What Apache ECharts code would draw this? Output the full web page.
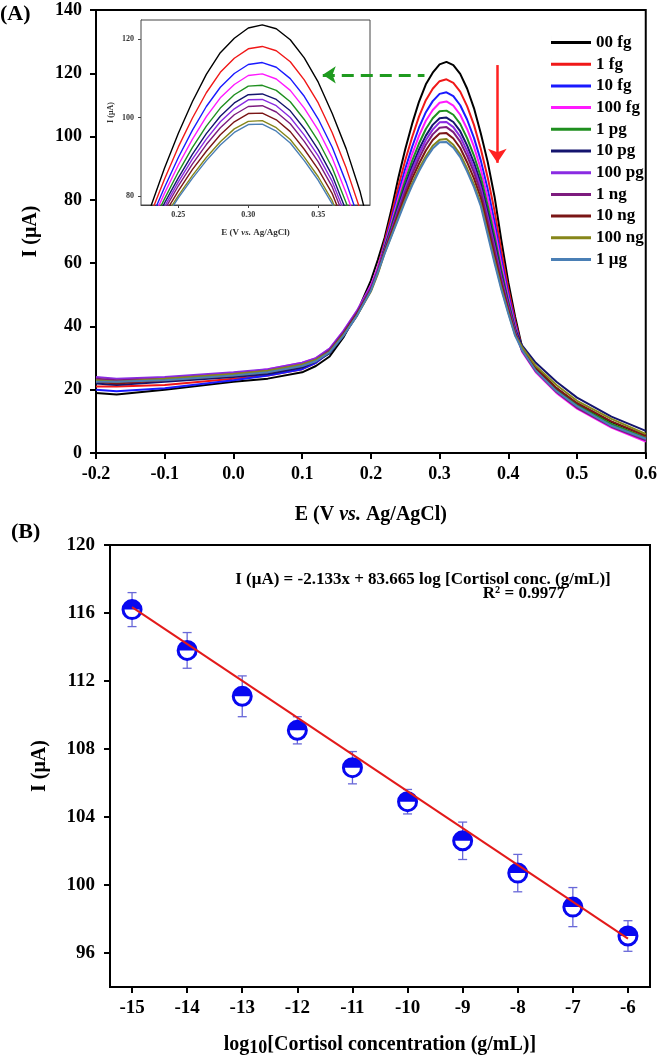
<!DOCTYPE html>
<html><head><meta charset="utf-8">
<script src="https://cdn.jsdelivr.net/npm/echarts@6/dist/echarts.min.js"></script>
<style>html,body{margin:0;padding:0;background:#fff}#c{width:660px;height:1059px}</style>
</head><body><div id="c"></div>
<script>
// ---------- Panel A data: DPV curves ----------
const potentials = [-0.2, -0.17, -0.1, 0, 0.05, 0.1, 0.12, 0.14, 0.16, 0.18, 0.2, 0.21,
  0.22, 0.23, 0.24, 0.25, 0.26, 0.27, 0.28, 0.29, 0.30, 0.31, 0.32, 0.33, 0.34, 0.35, 0.36, 0.37, 0.38, 0.39, 0.40, 0.41,
  0.42, 0.44, 0.47, 0.50, 0.55, 0.60];
const cur_00fg = [19, 18.5, 20, 22.5, 23.5, 25.5, 27.5, 30.5, 36.5, 44.5, 54.5, 61,
  68, 77, 87, 96, 104, 111, 116.5, 120.2, 122.8, 123.6, 122.6, 119.8, 115.2, 109, 101, 92, 81, 67, 54, 43,
  33.5, 27, 20.5, 15.5, 9.8, 5.5];
const cur_1fg = [21, 21, 21.5, 23.5, 24.5, 26.5, 28.5, 32, 37.5, 44.5, 52.5, 58.5,
  66.9, 75.2, 84.2, 92.5, 99.8, 106.3, 111.5, 115.1, 117.5, 118.1, 117, 114.2, 109.6, 103.7, 96.1, 87.1, 76.5, 63.7, 51.9, 41.7,
  33, 26.5, 20, 15, 9, 5];
const cur_10fg = [20, 19.5, 20.5, 23, 24.5, 26.5, 28.5, 31.8, 37.3, 44, 52, 58,
  66.1, 73.8, 82.1, 89.8, 96.7, 102.8, 107.7, 111.2, 113.5, 114, 112.8, 109.9, 105.4, 99.6, 92.4, 83.4, 73.1, 61.2, 50.3, 40.8,
  32.8, 26.2, 19.8, 14.8, 8.8, 4.5];
const cur_100fg = [22.5, 22.5, 23.5, 25, 26.5, 28.5, 30, 33, 38.5, 45, 53, 58.5,
  65.6, 72.8, 80.6, 87.9, 94.4, 100.2, 105, 108.4, 110.7, 111.1, 109.8, 106.9, 102.4, 96.8, 89.7, 80.7, 70.7, 59.4, 49.1, 40.1,
  32, 25.5, 19, 14, 8, 3.6];
const cur_1pg = [23, 22.5, 23, 24.5, 25.5, 27.5, 29.5, 32.3, 37.5, 44, 52, 57.5,
  65, 71.9, 79.2, 86.1, 92.3, 97.8, 102.4, 105.8, 108, 108.2, 106.9, 104, 99.5, 94, 87.2, 78.2, 68.4, 57.7, 48, 39.4,
  33, 26.5, 20, 15.2, 9.2, 4.8];
const cur_10pg = [22, 21.5, 22.5, 24, 25, 27, 29, 31.5, 37, 43.5, 51.5, 57.5,
  64.6, 71.2, 78.1, 84.6, 90.6, 95.9, 100.3, 103.7, 105.8, 106, 104.6, 101.7, 97.2, 91.8, 85.2, 76.2, 66.6, 56.3, 47.1, 38.9,
  34, 28.5, 22.5, 17.5, 11.5, 7];
const cur_100pg = [24, 23.5, 24, 25.5, 26.5, 28.5, 30, 33, 38.5, 45, 52.5, 58,
  64.2, 70.6, 77.2, 83.6, 89.4, 94.5, 98.9, 102.2, 104.5, 104.6, 103, 100, 95.5, 90.2, 83.7, 74.7, 65.2, 55.4, 46.5, 38.5,
  32.5, 26, 19.5, 14.5, 8.5, 4.2];
const cur_1ng = [23.5, 23, 23.5, 25, 26, 28, 29.5, 32.5, 38, 44.5, 52, 57.5,
  63.9, 70.1, 76.4, 82.6, 88.1, 93.1, 97.4, 100.7, 102.8, 103, 101.4, 98.4, 93.9, 88.7, 82.3, 73.3, 63.9, 54.4, 45.9, 38.1,
  32.3, 25.8, 19.3, 14.3, 8.3, 4];
const cur_10ng = [22.5, 22, 23, 24.5, 25.5, 27.5, 29, 32, 37.5, 44, 51.5, 57,
  63.6, 69.4, 75.4, 81.3, 86.7, 91.4, 95.6, 98.9, 101, 101.1, 99.4, 96.4, 91.9, 86.8, 80.6, 71.6, 62.3, 53.2, 45.1, 37.7,
  33, 26.8, 20.5, 15.8, 10, 5.5];
const cur_100ng = [23, 22.5, 23.5, 25, 26, 28, 29.5, 32, 37.3, 43.5, 51, 56.5,
  63.2, 68.8, 74.5, 80.1, 85.2, 89.8, 93.8, 97.1, 99, 99.2, 97.4, 94.4, 89.9, 84.9, 78.8, 69.8, 60.8, 52.1, 44.4, 37.2,
  33.5, 27.5, 21.5, 16.5, 10.8, 6];
const cur_1ug = [22.5, 22.5, 23, 24.5, 25.5, 27.5, 29, 31.8, 37, 43.5, 51.3, 57,
  63, 68.5, 74, 79.5, 84.5, 89, 93, 96.2, 98.2, 98.3, 96.5, 93.5, 89, 84, 78, 69, 60, 51.5, 44, 37,
  32.5, 26, 19.5, 14.8, 8.6, 4.5];
const curveNames = ['00 fg', '1 fg', '10 fg', '100 fg', '1 pg', '10 pg', '100 pg', '1 ng', '10 ng', '100 ng', '1 μg'];
const curveColors = ['#000000', '#f01818', '#1a1aff', '#ff1aff', '#1f8f1f', '#14146e', '#8a2be2', '#7d1b7e', '#7a1616', '#86861a', '#4a7fb5'];
const curves = [cur_00fg, cur_1fg, cur_10fg, cur_100fg, cur_1pg, cur_10pg, cur_100pg, cur_1ng, cur_10ng, cur_100ng, cur_1ug];

// axis ticks
const xTicksA = [-0.2, 0.6, 0.1];          // min, max, interval
const yTicksA = [0, 140, 20];
const insetXTicks = [0.25, 0.30, 0.35];
const insetYTicks = [80, 100, 120];

// annotations (data coordinates)
const greenArrowE = [0.278, 0.130]; const greenArrowI = 119.5;
const redArrowE = 0.384; const redArrowI = [122.6, 91.7];

// ---------- Panel B data: calibration ----------
const logConc = [-15, -14, -13, -12, -11, -10, -9, -8, -7, -6];
const meanI = [116.2, 113.8, 111.1, 109.1, 106.9, 104.9, 102.6, 100.7, 98.7, 97.0];
const errI = [1.0, 1.05, 1.2, 0.8, 0.95, 0.72, 1.1, 1.1, 1.15, 0.9];
const fitX = [-15, -6];
const fitY = [116.35, 96.85];
const xTicksB = [-15, -14, -13, -12, -11, -10, -9, -8, -7, -6];
const yTicksB = [96, 100, 104, 108, 112, 116, 120];

const serif = "'Liberation Serif','Times New Roman',serif";
const bold = (size, extra) => Object.assign({fontFamily: serif, fontWeight: 'bold', fontSize: size, color: '#000'}, extra || {});

const series = [];
curves.forEach((vals, i) => {
  const data = potentials.map((e, k) => [e, vals[k]]);
  series.push({type: 'line', name: curveNames[i], xAxisIndex: 0, yAxisIndex: 0, data: data,
    symbol: 'none', lineStyle: {color: curveColors[i], width: 2}, itemStyle: {color: curveColors[i]}, z: 3});
  series.push({type: 'line', name: curveNames[i], xAxisIndex: 1, yAxisIndex: 1, data: data,
    symbol: 'none', lineStyle: {color: curveColors[i], width: 1.4}, itemStyle: {color: curveColors[i]}, z: 4});
});
// arrows
series.push({type: 'line', xAxisIndex: 0, yAxisIndex: 0, data: [], z: 10, silent: true,
  markLine: {silent: true, animation: false, symbol: ['arrow', 'none'], symbolSize: 13, label: {show: false},
    lineStyle: {color: '#1f9a1f', width: 3, type: [12, 7]},
    emphasis: {disabled: true},
    data: [[{coord: [greenArrowE[1], greenArrowI]}, {coord: [greenArrowE[0], greenArrowI]}]]}});
series.push({type: 'line', xAxisIndex: 0, yAxisIndex: 0, data: [], z: 10, silent: true,
  markLine: {silent: true, animation: false, symbol: ['none', 'arrow'], symbolSize: 14, label: {show: false},
    lineStyle: {color: '#ff2020', width: 2.5, type: 'solid'},
    emphasis: {disabled: true},
    data: [[{coord: [redArrowE, redArrowI[0]]}, {coord: [redArrowE, redArrowI[1]]}]]}});

// Panel B
series.push({type: 'custom', xAxisIndex: 2, yAxisIndex: 2, z: 2,
  data: logConc.map((x, i) => [x, meanI[i] - errI[i], meanI[i] + errI[i]]),
  encode: {x: 0, y: [1, 2]},
  renderItem: (params, api) => {
    const x = api.value(0), lo = api.value(1), hi = api.value(2);
    const pH = api.coord([x, hi]), pL = api.coord([x, lo]);
    const w = 4.5;
    const st = {stroke: '#6868d8', lineWidth: 1.3};
    return {type: 'group', children: [
      {type: 'line', shape: {x1: pH[0], y1: pH[1], x2: pL[0], y2: pL[1]}, style: st},
      {type: 'line', shape: {x1: pH[0] - w, y1: pH[1], x2: pH[0] + w, y2: pH[1]}, style: st},
      {type: 'line', shape: {x1: pL[0] - w, y1: pL[1], x2: pL[0] + w, y2: pL[1]}, style: st}
    ]};
  }});
series.push({type: 'scatter', xAxisIndex: 2, yAxisIndex: 2, z: 3,
  data: logConc.map((x, i) => [x, meanI[i]]), symbol: 'circle', symbolSize: 18,
  itemStyle: {color: '#ffffff', borderColor: '#0808f0', borderWidth: 3, opacity: 1}});
series.push({type: 'scatter', xAxisIndex: 2, yAxisIndex: 2, z: 4,
  data: logConc.map((x, i) => [x, meanI[i]]), symbol: 'path://M0,10A10,10,0,0,1,20,10Z',
  symbolSize: [18, 9], symbolOffset: [0, '-50%'], itemStyle: {color: '#0808f0', opacity: 1}});
series.push({type: 'line', xAxisIndex: 2, yAxisIndex: 2, z: 5,
  data: fitX.map((x, i) => [x, fitY[i]]), symbol: 'none', lineStyle: {color: '#e31a1a', width: 2}});

const fmt1 = v => (Math.abs(v) < 1e-9 ? 0 : v).toFixed(1);

const option = {
  animation: false,
  backgroundColor: '#ffffff',
  grid: [
    {left: 96, top: 10, width: 551, height: 443, show: true, borderColor: '#000', borderWidth: 2, backgroundColor: 'transparent'},
    {left: 141, top: 20, width: 229, height: 185, show: true, borderColor: '#444', borderWidth: 1, backgroundColor: '#ffffff', z: 3},
    {left: 110, top: 545, width: 540, height: 442, show: true, borderColor: '#000', borderWidth: 2, backgroundColor: 'transparent'}
  ],
  legend: {data: curveNames, orient: 'vertical', left: 546, top: 29, itemWidth: 40, itemHeight: 14, itemGap: 4.7,
    icon: 'path://M0,0h0.01v14h-0.01zM0,5.5h40v3h-40z', selectedMode: false,
    textStyle: bold(17, {lineHeight: 14})},
  xAxis: [
    {type: 'value', gridIndex: 0, min: xTicksA[0], max: xTicksA[1], interval: xTicksA[2],
      axisLine: {onZero: false, lineStyle: {color: '#000', width: 2}},
      axisTick: {length: 6, lineStyle: {color: '#000', width: 2}},
      axisLabel: bold(18, {margin: 12, formatter: fmt1}), splitLine: {show: false},
      name: '{n|E (V }{i|vs.}{n| Ag/AgCl)}', nameLocation: 'middle', nameGap: 52,
      nameTextStyle: {rich: {n: bold(20), i: bold(20, {fontStyle: 'italic'})}}},
    {type: 'value', gridIndex: 1, min: 0.2233, max: 0.387,
      axisLine: {onZero: false, lineStyle: {color: '#444', width: 1}},
      axisTick: {length: 3, customValues: insetXTicks, lineStyle: {color: '#444', width: 1}},
      axisLabel: bold(8, {margin: 6, customValues: insetXTicks, formatter: v => v.toFixed(2), color: '#333'}),
      splitLine: {show: false},
      name: '{n|E (V }{i|vs.}{n| Ag/AgCl)}', nameLocation: 'middle', nameGap: 23,
      nameTextStyle: {rich: {n: bold(9, {color: '#333'}), i: bold(9, {fontStyle: 'italic', color: '#333'})}}},
    {type: 'value', gridIndex: 2, min: -15.4, max: -5.6,
      axisLine: {onZero: false, lineStyle: {color: '#000', width: 2}},
      axisTick: {length: 6, customValues: xTicksB, lineStyle: {color: '#000', width: 2}},
      axisLabel: bold(19, {margin: 12, customValues: xTicksB}), splitLine: {show: false},
      name: '{n|log}{s|10}{n|[Cortisol concentration (g/mL)]}', nameLocation: 'middle', nameGap: 48,
      nameTextStyle: {rich: {n: bold(20, {lineHeight: 22, verticalAlign: 'top'}), s: bold(18, {lineHeight: 22, verticalAlign: 'bottom', padding: [6, 0, 0, 0]})}}}
  ],
  yAxis: [
    {type: 'value', gridIndex: 0, min: yTicksA[0], max: yTicksA[1], interval: yTicksA[2],
      axisLine: {onZero: false, lineStyle: {color: '#000', width: 2}},
      axisTick: {length: 6, lineStyle: {color: '#000', width: 2}},
      axisLabel: bold(18, {margin: 14}), splitLine: {show: false},
      name: 'I (μA)', nameLocation: 'middle', nameGap: 55, nameTextStyle: bold(20)},
    {type: 'value', gridIndex: 1, min: 77.7, max: 124.84,
      axisLine: {onZero: false, lineStyle: {color: '#444', width: 1}},
      axisTick: {length: 3, customValues: insetYTicks, lineStyle: {color: '#444', width: 1}},
      axisLabel: bold(8, {margin: 7, customValues: insetYTicks, color: '#333'}), splitLine: {show: false},
      name: 'I (μA)', nameLocation: 'middle', nameGap: 26, nameTextStyle: bold(8, {color: '#333'})},
    {type: 'value', gridIndex: 2, min: 94, max: 120,
      axisLine: {onZero: false, lineStyle: {color: '#000', width: 2}},
      axisTick: {length: 6, customValues: yTicksB, lineStyle: {color: '#000', width: 2}},
      axisLabel: bold(19, {margin: 15, customValues: yTicksB}), splitLine: {show: false},
      name: 'I (μA)', nameLocation: 'middle', nameGap: 60, nameTextStyle: bold(20)}
  ],
  graphic: [
    {type: 'text', left: 0, top: 3, style: {text: '(A)', font: "bold 22px 'Liberation Serif', serif", fill: '#000'}},
    {type: 'text', left: 11, top: 521, style: {text: '(B)', font: "bold 22px 'Liberation Serif', serif", fill: '#000'}},
    {type: 'text', x: 423, y: 580, style: {text: 'I (μA) = -2.133x + 83.665 log [Cortisol conc. (g/mL)]', font: "bold 17px 'Liberation Serif', serif", fill: '#000', align: 'center', verticalAlign: 'middle'}},
    {type: 'text', x: 524, y: 594, style: {text: 'R² = 0.9977', font: "bold 17px 'Liberation Serif', serif", fill: '#000', align: 'center', verticalAlign: 'middle'}}
  ],
  series: series
};
const chart = echarts.init(document.getElementById('c'), null, {renderer: 'canvas'});
chart.setOption(option);
</script>
</body></html>
